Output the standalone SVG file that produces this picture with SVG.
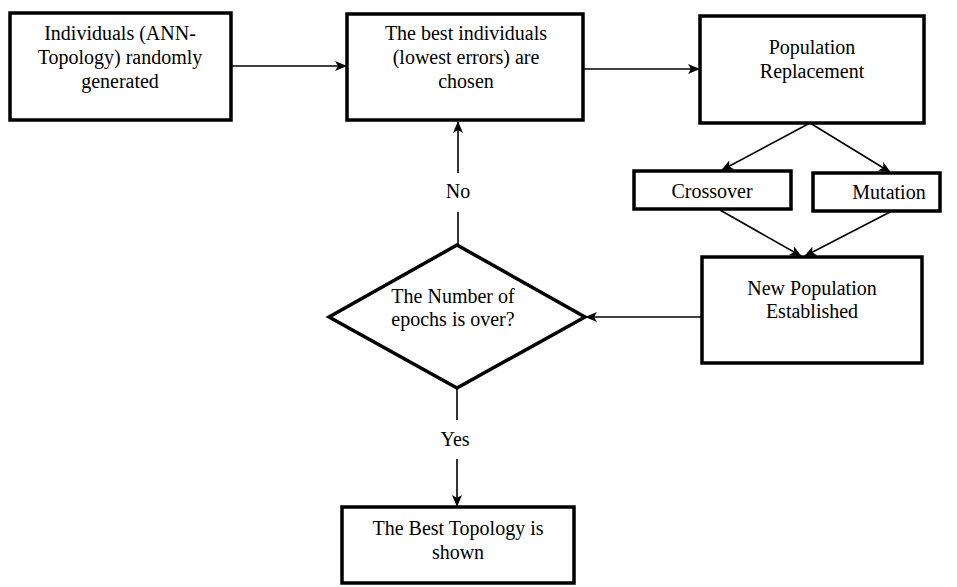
<svg xmlns="http://www.w3.org/2000/svg" width="957" height="587" viewBox="0 0 957 587">
<style>
.box{fill:#fff;stroke:#000;stroke-width:3.5}
.t{font-family:'Liberation Serif','Times New Roman',serif;font-size:20px;fill:#000;text-anchor:middle}
.c{fill:none;stroke:#000;stroke-width:1.6}
</style>
<defs>
<marker id="ah" markerWidth="12" markerHeight="10" refX="11" refY="5" orient="auto" markerUnits="userSpaceOnUse">
<path d="M0,0 L12,5 L0,10 L3,5 z" fill="#000"/>
</marker>
</defs>
<rect width="957" height="587" fill="#fff"/>
<g id="connectors">
<line class="c" x1="231" y1="66" x2="346" y2="66" marker-end="url(#ah)"/>
<line class="c" x1="583" y1="69" x2="699" y2="69" marker-end="url(#ah)"/>
<line class="c" x1="810" y1="123" x2="722" y2="170" marker-end="url(#ah)"/>
<line class="c" x1="810" y1="123" x2="890" y2="172" marker-end="url(#ah)"/>
<line class="c" x1="720" y1="210" x2="801" y2="256" marker-end="url(#ah)"/>
<line class="c" x1="890" y1="212" x2="805" y2="256" marker-end="url(#ah)"/>
<line class="c" x1="702" y1="317" x2="586" y2="317" marker-end="url(#ah)"/>
<line class="c" x1="458" y1="245" x2="458" y2="212"/>
<line class="c" x1="458" y1="173" x2="458" y2="122" marker-end="url(#ah)"/>
<line class="c" x1="457" y1="388" x2="457" y2="420"/>
<line class="c" x1="457" y1="459" x2="457" y2="506" marker-end="url(#ah)"/>
<text class="t" x="458" y="198">No</text>
<text class="t" x="455" y="446">Yes</text>
</g>
<g id="n1">
<rect class="box" x="10" y="13" width="221" height="107"/>
<text class="t" x="120" y="40">Individuals (ANN-</text>
<text class="t" x="120" y="64">Topology) randomly</text>
<text class="t" x="120" y="88">generated</text>
</g>
<g id="n2">
<rect class="box" x="347" y="14" width="236" height="106"/>
<text class="t" x="466" y="40">The best individuals</text>
<text class="t" x="466" y="64">(lowest errors) are</text>
<text class="t" x="466" y="88">chosen</text>
</g>
<g id="n3">
<rect class="box" x="700" y="16" width="224" height="107"/>
<text class="t" x="812" y="54">Population</text>
<text class="t" x="812" y="78">Replacement</text>
</g>
<g id="n4">
<rect class="box" x="634" y="171" width="157" height="38"/>
<text class="t" x="712" y="198">Crossover</text>
</g>
<g id="n5">
<rect class="box" x="813" y="173" width="127" height="38"/>
<text class="t" x="889" y="199">Mutation</text>
</g>
<g id="n6">
<rect class="box" x="702" y="257" width="220" height="106"/>
<text class="t" x="812" y="295">New Population</text>
<text class="t" x="812" y="318">Established</text>
</g>
<g id="n7">
<polygon class="box" points="457,245 585,317 457,388 329,317"/>
<text class="t" x="453" y="303">The Number of</text>
<text class="t" x="453" y="326">epochs is over?</text>
</g>
<g id="n8">
<rect class="box" x="342" y="507" width="232" height="76"/>
<text class="t" x="458" y="535">The Best Topology is</text>
<text class="t" x="458" y="559">shown</text>
</g>
</svg>
